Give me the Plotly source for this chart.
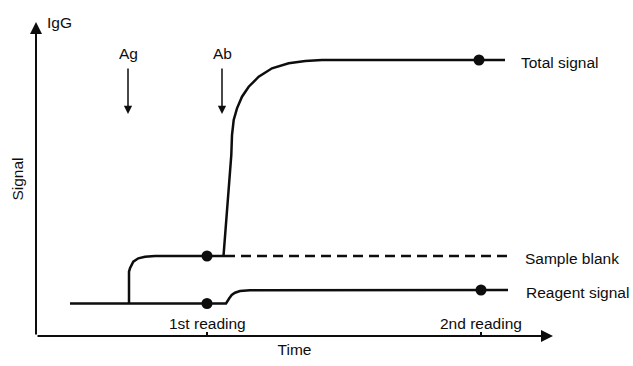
import plotly.graph_objects as go

# ---- data (time in arbitrary units, signal in arbitrary units) ----
reagent_t = [3.4, 19.0, 19.33, 19.57, 19.9, 20.4, 21.4, 47.2]
reagent_s = [3.25, 3.25, 3.77, 4.1, 4.33, 4.5, 4.58, 4.6]

blank_t = [9.3, 9.3, 9.4, 9.73, 10.23, 10.9, 11.9, 18.9]
blank_s = [3.25, 6.43, 6.77, 7.43, 7.77, 7.93, 8.0, 8.0]
blank_dash_t = [18.9, 47.4]
blank_dash_s = [8.0, 8.0]

total_t = [18.75, 19.53, 19.6, 19.77, 20.1, 20.6, 21.27, 22.27, 23.6, 25.27, 26.93, 28.6, 46.9]
total_s = [8.0, 18.1, 20.1, 21.6, 22.77, 23.93, 24.93, 25.93, 26.77, 27.27, 27.5, 27.6, 27.6]

reading_times = [17.1, 44.5]
reading_labels = ["1st reading", "2nd reading"]
dots_t = [17.1, 17.1, 44.5, 44.3]
dots_s = [3.25, 8.0, 4.6, 27.6]

event_labels = ["Ag", "Ab"]
event_times = [9.2, 18.6]

series_labels = ["Total signal", "Sample blank", "Reagent signal"]
series_label_levels = [27.6, 8.0, 4.6]
series_label_t = [48.3, 48.7, 48.8]

X_MAX, Y_MAX = 51.7, 31.4
INK = "#0d0d0d"
FONT = dict(family="Liberation Sans, Arial, sans-serif", size=15.5, color=INK)

fig = go.Figure()
fig.add_trace(go.Scatter(x=reagent_t, y=reagent_s, mode="lines",
                         line=dict(color=INK, width=2.5), cliponaxis=False))
fig.add_trace(go.Scatter(x=blank_t, y=blank_s, mode="lines",
                         line=dict(color=INK, width=2.5), cliponaxis=False))
fig.add_trace(go.Scatter(x=blank_dash_t, y=blank_dash_s, mode="lines",
                         line=dict(color=INK, width=2.5, dash="10px,6px"), cliponaxis=False))
fig.add_trace(go.Scatter(x=total_t, y=total_s, mode="lines",
                         line=dict(color=INK, width=2.5), cliponaxis=False))
fig.add_trace(go.Scatter(x=dots_t, y=dots_s, mode="markers",
                         marker=dict(color=INK, size=11), cliponaxis=False))

ann = []
# axes with arrowheads
ann.append(dict(x=0, y=Y_MAX, ax=0, ay=0, xref="x", yref="y", axref="x", ayref="y",
                text="", showarrow=True, arrowhead=2, arrowsize=1.2, arrowwidth=2,
                arrowcolor=INK, standoff=0, startstandoff=0))
ann.append(dict(x=X_MAX, y=0, ax=0, ay=0, xref="x", yref="y", axref="x", ayref="y",
                text="", showarrow=True, arrowhead=2, arrowsize=1.2, arrowwidth=2,
                arrowcolor=INK, standoff=0, startstandoff=0))
# IgG label
ann.append(dict(x=2.3, y=1, xref="x", yref="paper", yshift=10, text="IgG",
                showarrow=False, font=FONT))
# event arrows
for lab, t in zip(event_labels, event_times):
    ann.append(dict(x=t, y=22.2, ax=t, ay=26.9, xref="x", yref="y", axref="x", ayref="y",
                    text="", showarrow=True, arrowhead=2, arrowsize=1.1, arrowwidth=1.5,
                    arrowcolor=INK, standoff=0, startstandoff=0))
    ann.append(dict(x=t, y=28.3, xref="x", yref="y", text=lab, showarrow=False, font=FONT))
# reading labels
for lab, t in zip(reading_labels, reading_times):
    ann.append(dict(x=t, y=1.3, xref="x", yref="y", text=lab, showarrow=False, font=FONT))
# series labels
for lab, t, s in zip(series_labels, series_label_t, series_label_levels):
    ann.append(dict(x=t, y=s, xref="x", yref="y", text=lab, showarrow=False,
                    xanchor="left", yshift=-2, font=FONT))

fig.update_layout(
    width=633, height=366,
    margin=dict(l=36, r=80, t=22, b=30, autoexpand=False),
    paper_bgcolor="white", plot_bgcolor="white",
    showlegend=False,
    annotations=ann,
    font=FONT,
    xaxis=dict(range=[0, X_MAX], showgrid=False, zeroline=False, showline=False,
               automargin=False,
               tickvals=reading_times, ticks="inside", ticklen=4, tickwidth=1.5,
               tickcolor=INK, showticklabels=False,
               title=dict(text="Time", font=FONT, standoff=8)),
    yaxis=dict(range=[0, Y_MAX], showgrid=False, zeroline=False, showline=False,
               automargin=False,
               showticklabels=False, ticks="",
               title=dict(text="Signal", font=FONT, standoff=7)),
)

fig.write_html("out.html", config={"displayModeBar": False},
               post_script="document.body.style.margin='0';")
